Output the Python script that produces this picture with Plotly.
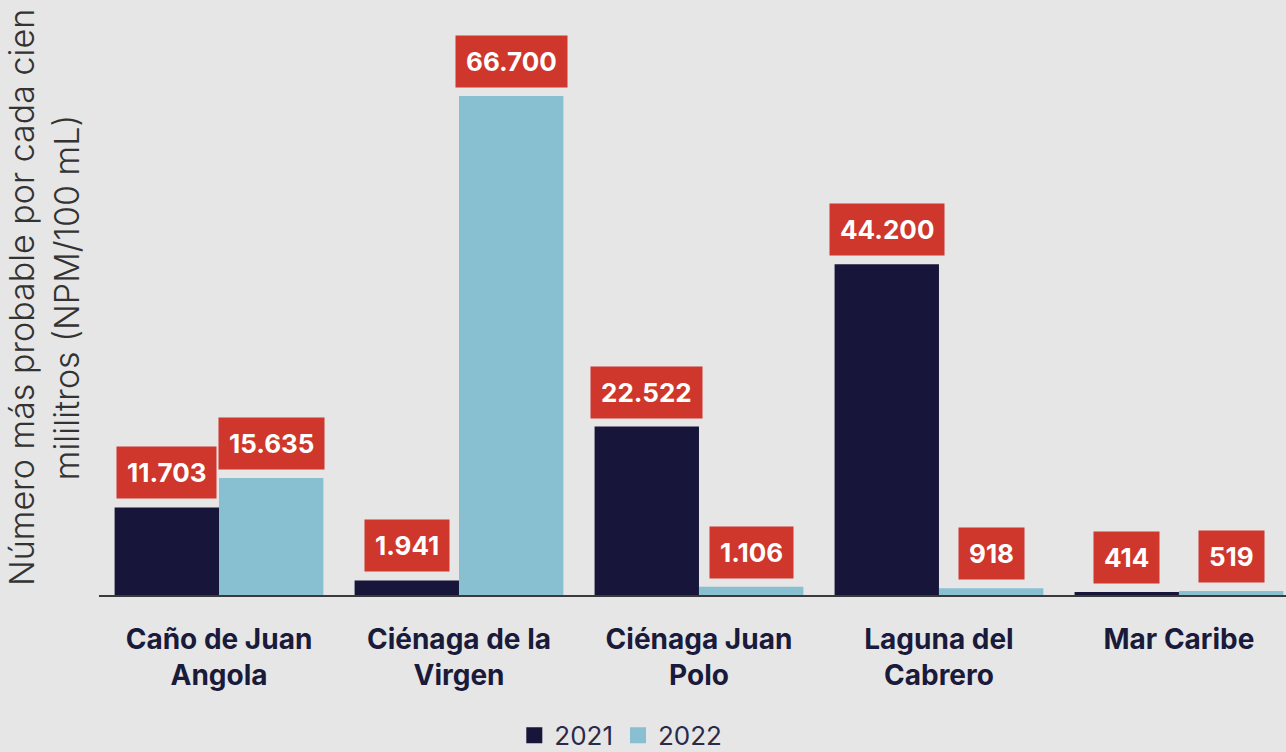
import plotly.graph_objects as go

categories = ["Caño de Juan<br>Angola", "Ciénaga de la<br>Virgen", "Ciénaga Juan<br>Polo",
              "Laguna del<br>Cabrero", "Mar Caribe"]
years = ["2021", "2022"]
values_2021 = [11703, 1941, 22522, 44200, 414]
values_2022 = [15635, 66700, 1106, 918, 519]

colors = {"2021": "#17153a", "2022": "#88c0d1"}
label_red = "#cf372c"
font_family = "Inter, Lato, 'Open Sans', sans-serif"

fig = go.Figure()
for yr, vals in zip(years, [values_2021, values_2022]):
    fig.add_trace(go.Bar(x=categories, y=vals, name=yr, marker_color=colors[yr],
                         marker_line_width=0, showlegend=False))
# legend-only square swatches
for yr in years:
    fig.add_trace(go.Scatter(x=[None], y=[None], mode="markers", name=yr,
                             marker=dict(symbol="square", size=20, color=colors[yr]),
                             showlegend=True))

def fmt(v):
    return f"{v:,}".replace(",", ".")

bar_px = 104.5
for i, cat in enumerate(categories):
    for j, vals in enumerate([values_2021, values_2022]):
        fig.add_annotation(x=cat, y=vals[i], xref="x", yref="y",
                           text="<b>" + fmt(vals[i]) + "</b>", showarrow=False,
                           yanchor="bottom", yshift=8,
                           xshift=(-bar_px / 2) if j == 0 else (bar_px / 2),
                           bgcolor=label_red, borderpad=10,
                           font=dict(family=font_family, size=26, color="white"))

fig.update_layout(
    width=1286, height=752,
    margin=dict(l=99, r=0, t=0, b=157, autoexpand=False),
    paper_bgcolor="#e6e6e6", plot_bgcolor="#e6e6e6",
    barmode="group", bargap=0.13, bargroupgap=0,
    font=dict(family=font_family),
    showlegend=True,
    legend=dict(orientation="h", x=0.4396, xanchor="center", y=-0.236, yanchor="middle",
                font=dict(size=26, color="#2a2a4a"), itemwidth=30, itemsizing="trace",
                bgcolor="rgba(0,0,0,0)"),
    xaxis=dict(range=[-0.5, 4.446], showline=True, linecolor="#3a3a3a", linewidth=2,
               tickfont=dict(size=28, color="#1a1a3a", family=font_family, weight="bold"),
               ticks="", showgrid=False, zeroline=False, ticklabelstandoff=18,
               automargin=False),
    yaxis=dict(range=[0, 79530], showticklabels=False, showgrid=False, zeroline=False,
               showline=False, ticks="", automargin=False,
               title=dict(text="Número más probable por cada cien<br>mililitros (NPM/100 mL)",
                          font=dict(size=34, color="#333333", family=font_family, weight=300),
                          standoff=8)),
)

fig.write_html("out.html", config={"displayModeBar": False},
               post_script="document.body.style.margin='0';document.body.style.background='#e6e6e6';")
